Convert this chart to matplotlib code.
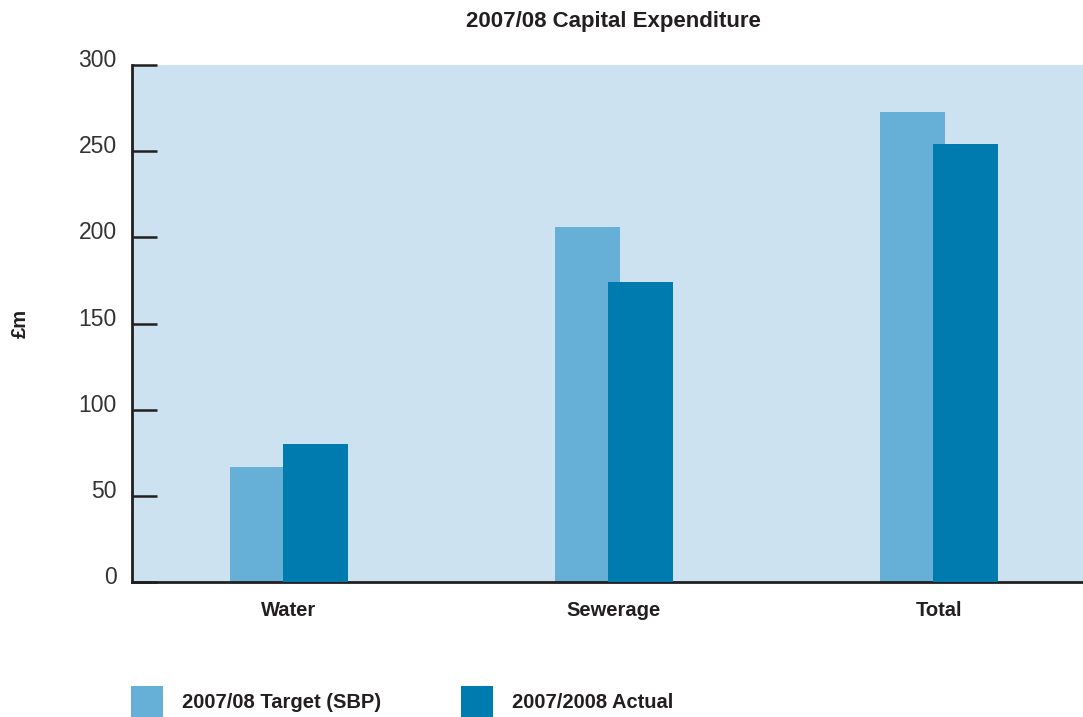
import matplotlib
matplotlib.use("Agg")
import matplotlib.pyplot as plt
import matplotlib.transforms as mtransforms
import numpy as np

categories = ["Water", "Sewerage", "Total"]
target = [67, 206, 273]
actual = [80, 174, 254]
series_labels = ["2007/08 Target (SBP)", "2007/2008 Actual"]
yticks = [0, 50, 100, 150, 200, 250, 300]

plt.rcParams['font.family'] = ['Liberation Sans', 'DejaVu Sans']

C_BG = "#cce2f0"
C_T = "#66afd6"
C_A = "#007bb0"
C_TXT = "#231f20"

fig = plt.figure(figsize=(10.83, 7.17), dpi=100)
ax = fig.add_axes([132/1083, (717-582)/717, 1 - 132/1083, (582-65)/717])
ax.set_facecolor(C_BG)

x = np.arange(len(categories))
w = 0.2
off = 0.0815
b1 = ax.bar(x - off, target, w, color=C_T, label=series_labels[0], zorder=2)
b2 = ax.bar(x + off, actual, w, color=C_A, label=series_labels[1], zorder=3)

ax.set_xlim(-0.483, 2.443)
ax.set_ylim(0, 300)
ax.set_yticks(yticks)
ax.set_xticks(x)
ax.set_xticklabels(categories, fontsize=14.5, fontweight='bold', color=C_TXT)
ax.tick_params(axis='x', length=0, pad=14)
ax.tick_params(axis='y', direction='in', length=18, width=1.8, color=C_TXT,
               pad=11, labelsize=16.5, labelcolor='#333333')

for s in ['top', 'right']:
    ax.spines[s].set_visible(False)
for s in ['left', 'bottom']:
    ax.spines[s].set_color(C_TXT)
    ax.spines[s].set_linewidth(2)

offset = mtransforms.ScaledTranslation(0, 7/100, fig.dpi_scale_trans)
for lab in ax.get_yticklabels():
    lab.set_transform(lab.get_transform() + offset)

fig.text(613/1083, 1 - 21/717, "2007/08 Capital Expenditure", ha='center', va='center',
         fontsize=16, fontweight='bold', color=C_TXT)
fig.text(20/1083, 1 - 323/717, "£m", ha='center', va='center', rotation=90,
         fontsize=14.5, fontweight='bold', color=C_TXT)

leg = fig.legend(handles=[b1, b2], loc='lower left', bbox_to_anchor=(131/1083, 0.0),
                 ncol=2, frameon=False, prop={'size': 14.5, 'weight': 'bold'},
                 handlelength=1.6, handleheight=2.0, handletextpad=0.95,
                 columnspacing=3.95, borderaxespad=0, borderpad=0)
for t in leg.get_texts():
    t.set_color(C_TXT)

fig.savefig("out.png", dpi=100)
